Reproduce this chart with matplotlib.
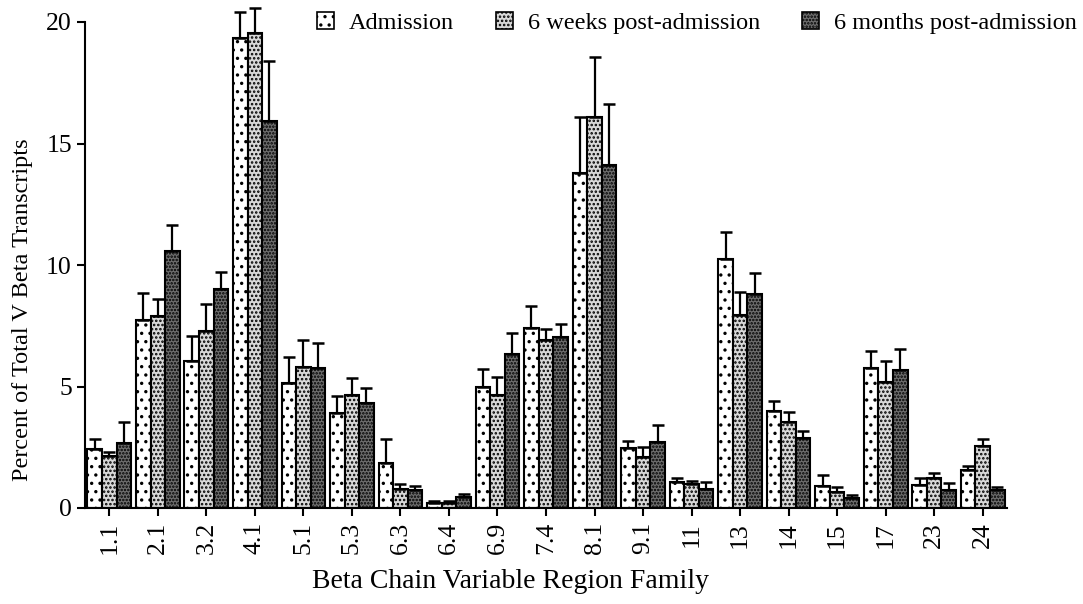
import numpy as np
import matplotlib
matplotlib.use("Agg")
import matplotlib.pyplot as plt
from matplotlib.patches import Patch

families = ["1.1", "2.1", "3.2", "4.1", "5.1", "5.3", "6.3", "6.4", "6.9", "7.4",
            "8.1", "9.1", "11", "13", "14", "15", "17", "23", "24"]
series_names = ["Admission", "6 weeks post-admission", "6 months post-admission"]

admission = [2.42, 7.74, 6.06, 19.33, 5.13, 3.92, 1.84, 0.21, 5.00, 7.40,
             13.80, 2.47, 1.07, 10.23, 3.99, 0.92, 5.77, 0.95, 1.55]
admission_top = [2.84, 8.85, 7.09, 20.40, 6.20, 4.60, 2.86, 0.30, 5.71, 8.32,
                 16.10, 2.75, 1.24, 11.36, 4.40, 1.35, 6.46, 1.25, 1.74]
weeks6 = [2.12, 7.90, 7.30, 19.56, 5.80, 4.65, 0.79, 0.20, 4.67, 6.91,
          16.07, 2.11, 1.00, 7.95, 3.54, 0.66, 5.17, 1.24, 2.57]
weeks6_top = [2.32, 8.60, 8.40, 20.56, 6.90, 5.35, 0.97, 0.30, 5.40, 7.36,
              18.55, 2.50, 1.12, 8.87, 3.95, 0.85, 6.05, 1.43, 2.86]
months6 = [2.67, 10.59, 9.00, 15.94, 5.76, 4.33, 0.73, 0.44, 6.32, 7.04,
           14.12, 2.71, 0.78, 8.79, 2.90, 0.40, 5.69, 0.76, 0.74]
months6_top = [3.54, 11.65, 9.70, 18.41, 6.80, 4.93, 0.90, 0.58, 7.21, 7.59,
               16.62, 3.41, 1.05, 9.68, 3.18, 0.55, 6.55, 1.03, 0.85]

plt.rcParams['font.family'] = ['Liberation Serif', 'DejaVu Serif']
plt.rcParams['hatch.linewidth'] = 1.2

fig = plt.figure(figsize=(10.83, 6.04), dpi=100)
ax = fig.add_axes([85/1083, 96/604, 922/1083, 21*24.3/604])

x = np.arange(len(families))
w = 0.3
styles = [dict(facecolor='white', hatch='..'),
          dict(facecolor='#d8d8d8', hatch='....'),
          dict(facecolor='#6e6e6e', hatch='.....')]
vals = [admission, weeks6, months6]
tops = [admission_top, weeks6_top, months6_top]

for i in range(3):
    v = np.array(vals[i])
    t = np.array(tops[i])
    pos = x + (i - 1) * w
    ax.bar(pos, v, width=w, edgecolor='black', linewidth=1.5, **styles[i], zorder=2)
    err = np.vstack([np.zeros_like(v), t - v])
    ax.errorbar(pos, v, yerr=err, fmt='none', ecolor='black', elinewidth=1.6,
                capsize=4.6, capthick=1.8, zorder=3, clip_on=False)

ax.set_xlim(-0.5, 18.5)
ax.set_ylim(0, 21)
ax.spines['top'].set_visible(False)
ax.spines['right'].set_visible(False)
ax.spines['left'].set_bounds(0, 20)
ax.spines['left'].set_linewidth(1.5)
ax.spines['bottom'].set_linewidth(1.5)
ax.set_yticks([0, 5, 10, 15, 20])
ax.set_xticks(x)
ax.set_xticklabels(families, rotation=90)
ax.tick_params(axis='both', direction='out', length=6, width=1.5, labelsize=18.5)
ax.tick_params(axis='x', pad=4)
ax.set_ylabel("Percent of Total V Beta Transcripts", fontsize=17.5)
ax.set_xlabel("Beta Chain Variable Region Family", fontsize=20)
ax.yaxis.set_label_coords(-0.068, 0.388)
ax.xaxis.set_label_coords(0.462, -0.145)
ax.xaxis.label.set_va('center')
ax.yaxis.label.set_va('center')

handles = [Patch(edgecolor='black', linewidth=1.2, **styles[i]) for i in range(3)]
fig.legend(handles, series_names, loc='upper right', bbox_to_anchor=(1089/1083, 1.0),
           ncol=3, frameon=False, fontsize=17.5, handlelength=0.7, handleheight=0.7,
           columnspacing=1.75, handletextpad=0.6, borderaxespad=0.1)

fig.savefig("out.png", dpi=100)
